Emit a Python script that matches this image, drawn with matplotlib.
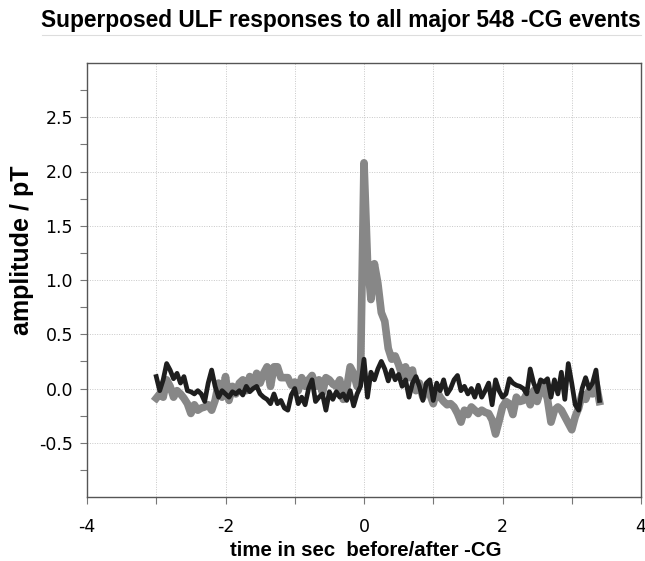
import numpy as np
import matplotlib
matplotlib.use("Agg")
import matplotlib.pyplot as plt
from matplotlib.ticker import FixedLocator

plt.rcParams['font.family'] = ['Liberation Sans', 'DejaVu Sans']

# time axis: -3.0 .. 3.4 s in 0.05 s steps
t_start, t_step = -3.0, 0.05

black_vals = [
    0.11, -0.02, 0.08, 0.23, 0.17, 0.09, 0.14, 0.05, 0.11, -0.02,
    -0.03, -0.05, -0.02, -0.05, -0.12, 0.05, 0.17, 0.02, -0.08, -0.02,
    -0.05, -0.08, -0.03, -0.05, -0.02, -0.06, 0.02, -0.03, 0.0, 0.02,
    -0.05, -0.08, -0.10, -0.14, -0.05, -0.14, -0.11, -0.18, -0.20, -0.06,
    0.0, -0.14, -0.08, -0.15, 0.0, 0.08, -0.12, -0.08, -0.05, -0.20,
    -0.03, -0.10, -0.03, -0.08, -0.05, -0.11, -0.02, -0.16, -0.05, 0.02,
    0.27, -0.08, 0.15, 0.08, 0.18, 0.25, 0.18, 0.07, 0.17, 0.08,
    0.13, 0.02, 0.08, -0.08, 0.05, 0.11, 0.02, -0.11, 0.05, 0.08,
    -0.11, 0.05, -0.02, 0.08, -0.05, 0.0, 0.08, 0.12, -0.02, 0.02,
    -0.05, 0.0, -0.08, 0.03, -0.08, -0.02, 0.05, -0.15, 0.08, -0.02,
    -0.08, -0.05, 0.09, 0.05, 0.03, 0.02, 0.0, -0.05, 0.18, 0.05,
    -0.03, 0.08, 0.06, 0.09, -0.08, 0.08, -0.05, 0.15, -0.10, 0.23,
    0.05, -0.15, -0.20, 0.0, 0.10, 0.0, 0.05, 0.17, -0.11,
]

gray_vals = [
    -0.09, -0.05, -0.08, 0.08, 0.02, -0.08, -0.02, -0.05, -0.09, -0.14,
    -0.23, -0.15, -0.20, -0.18, -0.17, -0.15, -0.20, -0.11, 0.05, -0.08,
    0.11, -0.11, 0.02, -0.05, 0.05, 0.08, -0.02, 0.11, 0.02, 0.14,
    0.05, 0.14, 0.20, 0.02, 0.20, 0.20, 0.10, 0.10, 0.10, 0.03,
    0.06, -0.02, 0.10, 0.02, 0.08, 0.12, 0.02, 0.08, -0.04, 0.10,
    0.08, 0.04, 0.02, 0.08, -0.10, 0.0, 0.20, 0.14, 0.02, 0.14,
    2.08, 1.18, 0.82, 1.15, 0.97, 0.70, 0.62, 0.37, 0.27, 0.30,
    0.22, 0.12, 0.20, 0.10, 0.17, -0.02, 0.05, -0.08, 0.02, -0.05,
    -0.14, -0.02, -0.08, -0.12, -0.15, -0.14, -0.17, -0.23, -0.31, -0.20,
    -0.24, -0.17, -0.20, -0.23, -0.20, -0.22, -0.23, -0.29, -0.42, -0.30,
    -0.17, -0.12, -0.14, -0.24, -0.08, -0.12, -0.11, -0.05, -0.15, -0.02,
    -0.12, -0.02, 0.02, -0.10, -0.31, -0.20, -0.17, -0.20, -0.26, -0.32,
    -0.38, -0.26, -0.18, -0.05, -0.10, -0.02, -0.05, 0.05, -0.12,
]

x_ticks = [-4, -2, 0, 2, 4]
y_ticks = [-0.5, 0.0, 0.5, 1.0, 1.5, 2.0, 2.5]

title = "Superposed ULF responses to all major 548 -CG events"
xlabel = "time in sec  before/after -CG"
ylabel = "amplitude / pT"

t_black = t_start + t_step * np.arange(len(black_vals))
t_gray = t_start + t_step * np.arange(len(gray_vals))

fig = plt.figure(figsize=(6.45, 5.61), dpi=100)
ax = fig.add_axes([87 / 645, 1 - 497 / 561, (641 - 87) / 645, (497 - 63) / 561])

ax.plot(t_gray, gray_vals, color='#878787', lw=5.5, solid_joinstyle='round', zorder=3)
ax.plot(t_black, black_vals, color='#1e1e1e', lw=3.4, solid_joinstyle='round', zorder=4)

ax.set_xlim(-4, 4)
ax.set_ylim(-1.0, 3.0)
ax.set_xticks(x_ticks)
ax.set_xticklabels([str(v) for v in x_ticks])
ax.set_yticks(y_ticks)
ax.set_yticklabels([f"{v:.1f}" for v in y_ticks])
ax.xaxis.set_minor_locator(FixedLocator([-3, -1, 1, 3]))
ax.yaxis.set_minor_locator(FixedLocator([-0.75, -0.25, 0.25, 0.75, 1.25, 1.75, 2.25, 2.75]))

for lab in ax.get_xticklabels() + ax.get_yticklabels():
    lab.set_family('DejaVu Sans')

for v in [-3, -2, -1, 0, 1, 2, 3]:
    ax.axvline(v, color='#c8c8c8', lw=0.7, ls=(0, (1, 1.5)), zorder=1)
for v in y_ticks:
    ax.axhline(v, color='#c8c8c8', lw=0.7, ls=(0, (1, 1.5)), zorder=1)

ax.tick_params(axis='both', which='both', direction='out', color='#777777', width=0.8)
ax.tick_params(axis='both', which='major', length=5, labelsize=12.5)
ax.tick_params(axis='both', which='minor', length=5)
ax.tick_params(axis='x', which='major', pad=10)
ax.tick_params(axis='y', which='major', pad=5)
for s in ax.spines.values():
    s.set_color('#555555')
    s.set_linewidth(1.0)

fig.text(341 / 645, 1 - 20 / 561, title, ha='center', va='center',
         fontsize=16.4, fontweight='bold')
fig.add_artist(plt.Line2D([42 / 645, 641 / 645], [1 - 35 / 561, 1 - 35 / 561],
                          color='#dddddd', lw=0.8))
fig.text(366 / 645, 1 - 551 / 561, xlabel, ha='center', va='center',
         fontsize=14.7, fontweight='bold')
fig.text(22 / 645, 1 - 250 / 561, ylabel, ha='center', va='center',
         rotation=90, fontsize=18, fontweight='bold')

fig.savefig("out.png", dpi=100)
